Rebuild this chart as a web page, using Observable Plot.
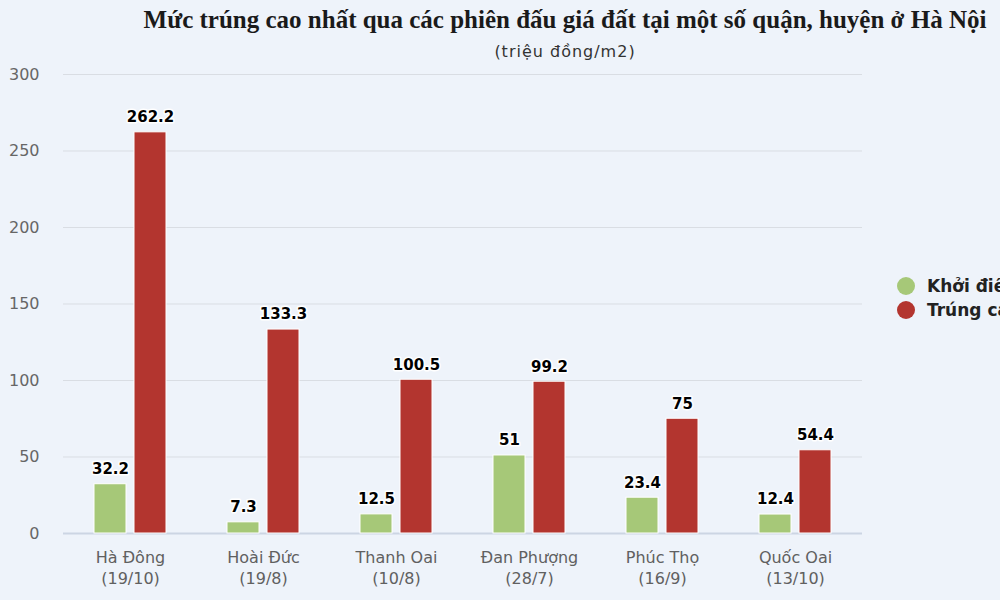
<!DOCTYPE html>
<html>
<head>
<meta charset="utf-8">
<script src="https://cdn.jsdelivr.net/npm/d3@7"></script>
<script src="https://cdn.jsdelivr.net/npm/@observablehq/plot@0.6"></script>
<style>
  html, body { margin: 0; padding: 0; }
  body { background: #eef3fa; width: 1000px; height: 600px; overflow: hidden; position: relative; }
  #title { position: absolute; left: 0; width: 1130px; top: 6px; text-align: center;
    font: bold 25px "Liberation Serif", "Times New Roman", serif; color: #1a1a1a; white-space: nowrap; }
  #subtitle { position: absolute; left: 0; width: 1130px; top: 42px; text-align: center;
    font: 16px "DejaVu Sans", sans-serif; color: #333; letter-spacing: 1px; white-space: nowrap; }
  #chart { position: absolute; left: 0; top: 65px; }
  #legend { position: absolute; left: 897px; top: 274px; font: bold 17px "DejaVu Sans", sans-serif; color: #222; white-space: nowrap; }
  .item { display: flex; align-items: center; height: 24px; }
  .dot { width: 18px; height: 18px; border-radius: 50%; margin-right: 12px; }
</style>
</head>
<body>
<div id="title"></div>
<div id="subtitle"></div>
<div id="chart"></div>
<div id="legend"></div>
<script>
const titleText = "Mức trúng cao nhất qua các phiên đấu giá đất tại một số quận, huyện ở Hà Nội";
const subtitleText = "(triệu đồng/m2)";
const categories = ["Hà Đông", "Hoài Đức", "Thanh Oai", "Đan Phượng", "Phúc Thọ", "Quốc Oai"];
const dates = ["19/10", "19/8", "10/8", "28/7", "16/9", "13/10"];
const seriesNames = ["Khởi điểm", "Trúng cao nhất"];
const khoiDiem = [32.2, 7.3, 12.5, 51, 23.4, 12.4];
const trungCao = [262.2, 133.3, 100.5, 99.2, 75, 54.4];
const yTicks = [0, 50, 100, 150, 200, 250, 300];
const colors = ["#a6c878", "#b3352f"];

document.getElementById("title").textContent = titleText;
document.getElementById("subtitle").textContent = subtitleText;

const greenData = categories.map((c, i) => ({category: c, value: khoiDiem[i], series: seriesNames[0]}));
const redData = categories.map((c, i) => ({category: c, value: trungCao[i], series: seriesNames[1]}));
const labelOf = new Map(categories.map((c, i) => [c, c + "\n(" + dates[i] + ")"]));

const chart = Plot.plot({
  width: 1000,
  height: 535,
  marginLeft: 63,
  marginRight: 138,
  marginTop: 9,
  marginBottom: 67,
  style: {background: "transparent", fontFamily: "DejaVu Sans, sans-serif", overflow: "visible"},
  x: {domain: categories, paddingInner: 0.46, paddingOuter: 0.23},
  y: {domain: [0, 300]},
  marks: [
    Plot.gridY(yTicks.filter(d => d > 0), {stroke: "#d9dde3", strokeOpacity: 1}),
    Plot.ruleY([0], {stroke: "#ccd5e3", strokeWidth: 2}),
    Plot.barY(greenData, {x: "category", y: "value", fill: colors[0], insetRight: 40, stroke: "white", strokeWidth: 1}),
    Plot.barY(redData, {x: "category", y: "value", fill: colors[1], insetLeft: 40, stroke: "white", strokeWidth: 1}),
    Plot.text(greenData, {x: "category", y: "value", text: d => String(d.value), dx: -20, dy: -15,
      fontSize: 15, fontWeight: "bold", fill: "#000", stroke: "white", strokeWidth: 3, paintOrder: "stroke"}),
    Plot.text(redData, {x: "category", y: "value", text: d => String(d.value), dx: 20, dy: -15,
      fontSize: 15, fontWeight: "bold", fill: "#000", stroke: "white", strokeWidth: 3, paintOrder: "stroke"}),
    Plot.axisY(yTicks, {tickSize: 0, tickPadding: 24, fontSize: 16, fill: "#666", label: null}),
    Plot.axisX({tickSize: 0, tickPadding: 14, fontSize: 16, fill: "#606060", lineHeight: 1.35,
      tickFormat: d => labelOf.get(d), label: null, lineAnchor: "top"})
  ]
});
document.getElementById("chart").appendChild(chart);

const legend = document.getElementById("legend");
seriesNames.forEach((name, i) => {
  const item = document.createElement("div");
  item.className = "item";
  const dot = document.createElement("span");
  dot.className = "dot";
  dot.style.background = colors[i];
  const label = document.createElement("span");
  label.textContent = name;
  item.appendChild(dot);
  item.appendChild(label);
  legend.appendChild(item);
});
</script>
</body>
</html>
